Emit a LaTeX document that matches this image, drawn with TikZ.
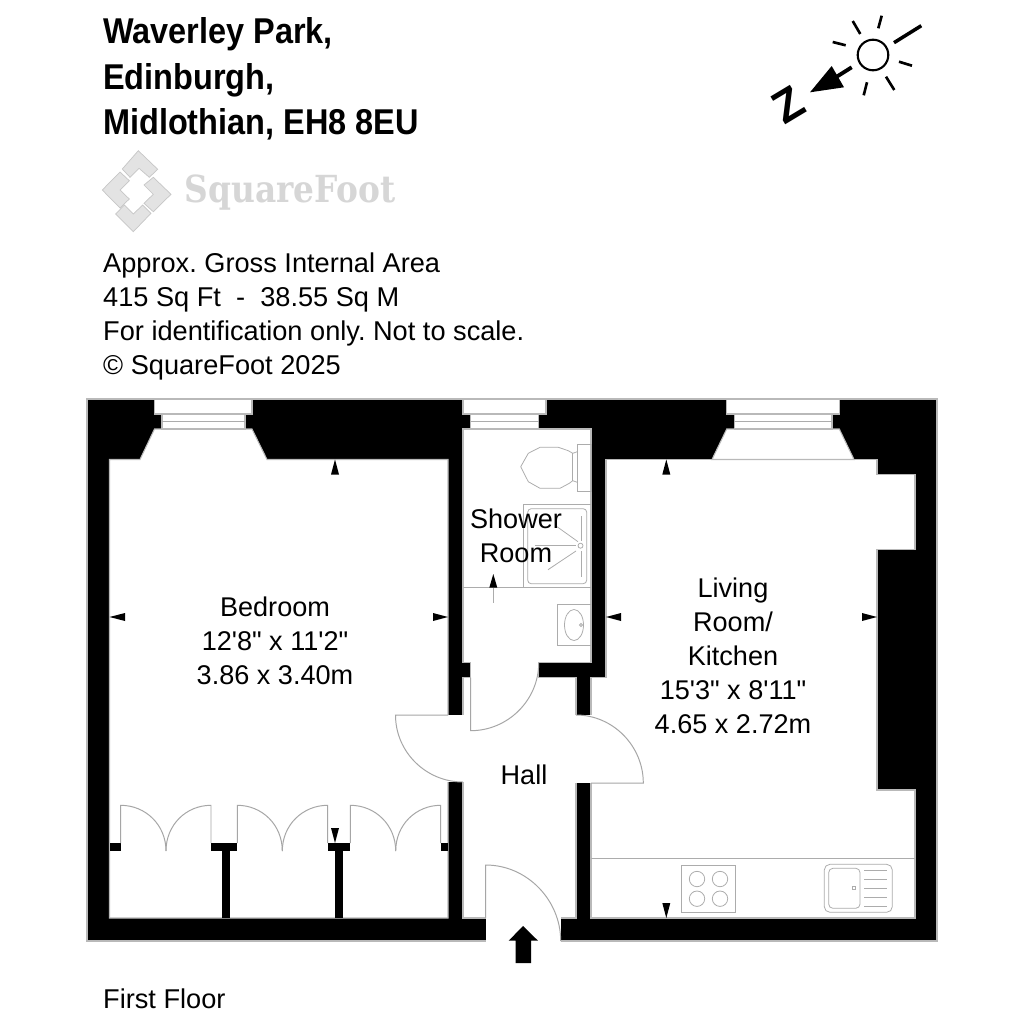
\documentclass[tikz,border=0pt]{standalone}
\usepackage{fontspec}
\usepackage[HTML]{xcolor}
\usepackage{tikz}
\newfontfamily\planfont{Liberation Sans}
\newfontfamily\titlefont[FakeStretch=0.905]{Liberation Sans}
\newfontfamily\logofont[FakeStretch=0.88]{DejaVu Serif}
\frenchspacing
\tikzset{
  wall/.style={fill=black},
  room/.style={fill=white,draw=gray!55,line width=0.3pt},
  fitting/.style={draw=gray!65,line width=0.22pt},
  doorleaf/.style={draw=gray!70,line width=0.28pt},
  sunray/.style={line width=0.75pt},
  infotext/.style={anchor=base west,inner sep=0pt,font=\fontsize{7.73}{9.65}\selectfont\planfont},
  headtext/.style={anchor=base west,inner sep=0pt,font=\fontsize{10.2}{10.2}\selectfont\titlefont\bfseries},
  roomlabel/.style={align=center,inner sep=0pt,font=\fontsize{7.7}{9.65}\selectfont\planfont},
}
\begin{document}
\begin{tikzpicture}[x=0.01cm,y=-0.01cm]
\fill[white] (0,0) rectangle (1024,1024);

% heading
\node[headtext] (townline) at (102.5,44) {Waverley Park,};
\node[headtext] (cityline) at (102.5,90) {Edinburgh,};
\node[headtext] (codeline) at (102.5,134) {Midlothian, EH8 8EU};

% logo
\fill[gray!22,draw=gray!45,line width=0.2pt] (138.3,150.7)--(157.7,169.3)--(149.3,177.3)--(139,168.3)--(130,177.3)--(122.3,169)--cycle;
\fill[gray!22,draw=gray!45,line width=0.2pt] (120,172)--(129.3,180.7)--(120,190)--(129.3,199)--(120,208)--(102.3,190)--cycle;
\fill[gray!22,draw=gray!45,line width=0.2pt] (153.3,177.3)--(171,194.3)--(153.3,211.7)--(144,203.3)--(153.3,194.3)--(144,185)--cycle;
\fill[gray!22,draw=gray!45,line width=0.2pt] (124.3,205)--(133.3,214)--(142.7,205)--(151,213.3)--(133.3,231.7)--(115.7,214)--cycle;
\node[inner sep=0pt,text=gray!32] (logotext) at (290,192.5) {\fontsize{10.6}{10.6}\selectfont\logofont\bfseries SquareFoot};

% area text
\node[infotext] (arealine) at (102.5,272) {Approx. Gross Internal Area};
\node[infotext] (sizeline) at (102.5,306) {415 Sq Ft\ \ -\ \ 38.55 Sq M};
\node[infotext] (noteline) at (102.5,340) {For identification only. Not to scale.};
\node[infotext] (copyline) at (102.5,374) {© SquareFoot 2025};
\node[infotext] (floorline) at (102.5,1008) {First Floor};

% compass
\draw[line width=0.6pt] (873,55) circle (15.3);
\draw[sunray] (852.7,21)--(860.3,34);
\draw[sunray] (881.7,15.7)--(878.3,28.3);
\draw[sunray] (832.7,42)--(845.7,45.3);
\draw[sunray] (899,61.7)--(912,65.7);
\draw[sunray] (886,76.7)--(894.3,90);
\draw[sunray] (867,82.3)--(863.7,95.3);
\draw[line width=1pt] (894,42.7)--(921.3,25.7);
\draw[line width=1.1pt] (851.7,67.3)--(836.7,76.7);
\fill (810,92.3)--(831.7,66)--(844,87.3)--cycle;
\node[inner sep=0pt,rotate=31,font=\fontsize{13}{13}\selectfont\planfont\bfseries] (northmark) at (788,105) {Z};

% walls and rooms
\fill[wall] (87,399) rectangle (937,941);
\draw[gray!55,line width=0.3pt] (87,399) rectangle (937,941);
\draw[room] (109.5,459.5)--(140,459.5)--(154.5,429)--(252,429)--(267,459.5)--(448,459.5)--(448,918)--(109.5,918)--cycle;
\draw[room] (463,429)--(591,429)--(591,662.7)--(538.7,662.7)--(538.7,677.5)--(576,677.5)--(576,918)--(463,918)--(463,677.5)--(470.7,677.5)--(470.7,662.7)--(463,662.7)--cycle;
\draw[room] (606,459.5)--(877,459.5)--(877,474.5)--(915,474.5)--(915,549.7)--(877,549.7)--(877,790)--(915,790)--(915,918)--(591,918)--(591,677.5)--(606,677.5)--cycle;
\draw[room] (726.7,429)--(839.3,429)--(854,459.5)--(712,459.5)--cycle;

% windows
\foreach \xa/\xb/\xc/\xd in {154.5/162/245/252, 463/470.7/538.7/546, 726.7/734.3/832/839.3}{
  \draw[room] (\xa,399) rectangle (\xd,414);
  \draw[room] (\xb,414) rectangle (\xc,429);
  \draw[fitting] (\xb,421.5)--(\xc,421.5);
}

% door openings
\fill[white] (446.5,715.3) rectangle (464.5,782);
\fill[white] (574.5,715.3) rectangle (592.5,782.5);
\fill[white] (485.7,916.5) rectangle (560.7,942);

% wardrobe partitions
\fill[wall] (109.5,842.7) rectangle (120.7,851);
\fill[wall] (211,842.7) rectangle (237.3,851);
\fill[wall] (327.7,842.7) rectangle (350.3,851);
\fill[wall] (440.7,842.7) rectangle (448,851);
\fill[wall] (222.3,851) rectangle (230,918);
\fill[wall] (335,851) rectangle (342.7,918);

% wardrobe doors
\foreach \xa/\xm/\xb in {120.7/166/211, 237.3/282.3/327.7, 350.3/395.7/440.7}{
  \draw[doorleaf] (\xa,843)--(\xa,805.3) .. controls (\xa+25,805.3) and (\xm,825) .. (\xm,851);
  \draw[doorleaf] (\xb,843)--(\xb,805.3) .. controls (\xb-25,805.3) and (\xm,825) .. (\xm,851);
}

% hall doors
\draw[doorleaf] (448,715)--(395.5,715) .. controls (395.5,752) and (426,782) .. (463,782);
\draw[doorleaf] (538.7,663) .. controls (538.7,700) and (508,730.7) .. (470.7,730.7)--(470.7,677.5);
\draw[doorleaf] (576,715) .. controls (613,715) and (643.3,746) .. (643.3,783)--(591,783);
\draw[doorleaf] (485.7,918)--(485.7,865) .. controls (527,865) and (560.7,900) .. (560.7,941);
\fill (523,926)--(538,940.7)--(531,940.7)--(531,963)--(515.5,963)--(515.5,940.7)--(508.7,940.7)--cycle;

% toilet
\draw[fitting] (577.3,444) rectangle (591,491.7);
\draw[fitting] (577.3,451.7)--(572.7,453.3)--(568.3,450.7)--(558.3,447.3)--(540,447.3)--(528.3,453.3)--(520.7,466.7)--(528.3,481.7)--(540,488.3)--(560,488.3)--(569.3,483.3)--(572.7,480.7)--(577.3,482.3);
\draw[fitting] (572.7,453.3)--(572.7,480.7);

% shower
\draw[fitting] (463,587.7)--(591,587.7);
\draw[fitting] (523.3,587.7)--(523.3,504)--(591,504);
\draw[fitting,rounded corners=1pt] (527.7,508.7) rectangle (586.7,583.7);
\draw[fitting] (580.5,545.7) circle (2.5);
\draw[fitting] (557,526.7)--(578,541.7);
\draw[fitting] (535,545.7)--(576,545.7);
\draw[fitting] (548,569.7)--(576,551);
\draw[fitting] (581,516)--(581,541);
\draw[fitting] (581,551)--(581,577);
\draw[fitting] (493.3,587.7)--(493.3,602.7);

% basin
\draw[fitting] (591,604.3)--(557.3,604.3)--(557.3,645.7)--(591,645.7);
\draw[fitting] (574,625) ellipse (9.5 and 15.5);
\draw[fitting] (581,625) circle (1.5);

% kitchen
\draw[fitting] (591,858.3)--(915,858.3);
\draw[fitting] (681.3,865.3) rectangle (735.7,912.3);
\foreach \xc/\yc in {697/879, 720/879, 697/898.7, 720/898.7}{
  \draw[fitting] (\xc,\yc) circle (7.7);
}
\draw[fitting,rounded corners=1.6pt] (824.3,864.3) rectangle (892.3,912.3);
\draw[fitting,rounded corners=1.2pt] (828.7,868.3) rectangle (860,908.3);
\draw[fitting] (852.5,886.5) rectangle (855.5,889.5);
\foreach \yc in {870.3, 879.3, 888.3, 897.3, 906.3}{
  \draw[fitting] (864.3,\yc)--(886.7,\yc);
}

% dimension marks
\fill (335,459.5)--(339,474.5)--(331,474.5)--cycle;
\fill (335,843)--(339,828)--(331,828)--cycle;
\fill (109.5,617)--(125,613)--(125,621)--cycle;
\fill (448,617)--(433,613)--(433,621)--cycle;
\fill (493.3,574)--(497.3,587.7)--(489.3,587.7)--cycle;
\fill (606,617)--(621,613)--(621,621)--cycle;
\fill (877,617)--(862,613)--(862,621)--cycle;
\fill (666.3,459.5)--(670.3,474.5)--(662.3,474.5)--cycle;
\fill (666.3,918)--(670.3,903)--(662.3,903)--cycle;

% room names
\node[roomlabel] (bedroom) at (275,640.5) {Bedroom\\12'8" x 11'2"\\3.86 x 3.40m};
\node[roomlabel] (shower) at (516,536) {Shower\\Room};
\node[roomlabel] (living) at (733,656) {Living\\Room/\\Kitchen\\15'3" x 8'11"\\4.65 x 2.72m};
\node[roomlabel] (hall) at (524,775) {Hall};
\end{tikzpicture}
\end{document}
